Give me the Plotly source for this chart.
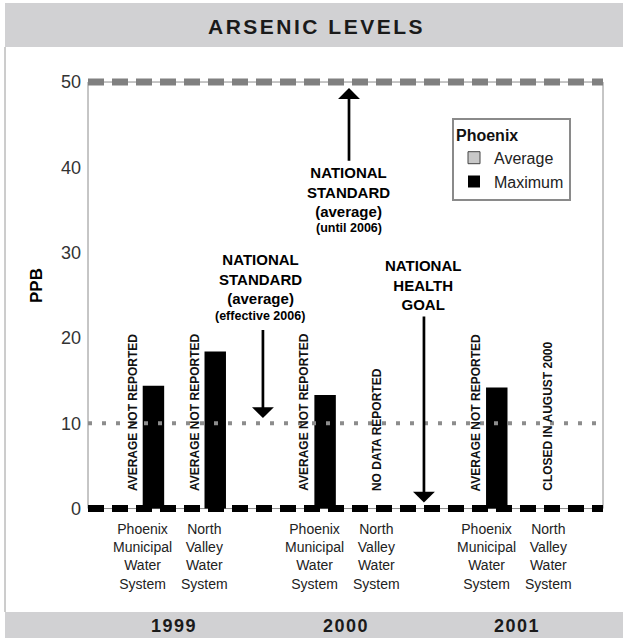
import plotly.graph_objects as go

# ---------------- data ----------------
years = ["1999", "2000", "2001"]
systems = ["Phoenix<br>Municipal<br>Water<br>System", "North<br>Valley<br>Water<br>System"]
# maximum arsenic (ppb) per year: [Phoenix Municipal, North Valley]
maximum_ppb = [[14.4, 18.4], [13.3, None], [14.2, None]]
# averages were not reported
average_ppb = [[None, None], [None, None], [None, None]]
notes = [
    ["AVERAGE NOT REPORTED", "AVERAGE NOT REPORTED"],
    ["AVERAGE NOT REPORTED", "NO DATA REPORTED"],
    ["AVERAGE NOT REPORTED", "CLOSED IN AUGUST 2000"],
]
y_ticks = [0, 10, 20, 30, 40, 50]
standard_until_2006 = 50
standard_effective_2006 = 10
health_goal = 0

# ---------------- layout constants ----------------
W, H = 623, 638
L, R, T, B = 88, 20, 77, 124
PW, PH = W - L - R, H - T - B
CAT_OFF = 0.18     # system offset from year centre
SLOT = 0.0612      # avg/max slot offset from system centre
BAR_W = 0.125

def px_x(px):
    return (px - L) / PW

def px_y(py):
    return (H - B - py) / PH

FONT = "Liberation Sans, Arial, sans-serif"
NARROW = "Liberation Sans Narrow, Arial Narrow, Liberation Sans, Arial, sans-serif"

avg_x, avg_y, max_x, max_y = [], [], [], []
for g, yr in enumerate(years):
    for s in range(len(systems)):
        c = g + (-CAT_OFF if s == 0 else CAT_OFF)
        avg_x.append(c - SLOT)
        avg_y.append(average_ppb[g][s])
        max_x.append(c + SLOT)
        max_y.append(maximum_ppb[g][s])

fig = go.Figure()
fig.add_trace(go.Bar(x=avg_x, y=avg_y, width=BAR_W, name="Average",
                     marker=dict(color="#c8c8c8", line=dict(color="#444", width=1))))
fig.add_trace(go.Bar(x=max_x, y=max_y, width=BAR_W, name="Maximum",
                     marker=dict(color="#000000", line=dict(width=0))))

shapes = [
    # title band
    dict(type="rect", xref="paper", yref="paper", x0=px_x(5), x1=px_x(623),
         y0=px_y(47), y1=px_y(3), fillcolor="#d1d1d3", line=dict(width=0), layer="below"),
    # bottom band
    dict(type="rect", xref="paper", yref="paper", x0=px_x(5), x1=px_x(623),
         y0=px_y(638), y1=px_y(612), fillcolor="#d1d1d3", line=dict(width=0), layer="below"),
    # left border line
    dict(type="line", xref="paper", yref="paper", x0=px_x(5), x1=px_x(5),
         y0=px_y(47), y1=px_y(612), line=dict(color="#9a9a9a", width=1)),
    # plot frame
    dict(type="rect", xref="paper", yref="y", x0=0, x1=1, y0=0, y1=standard_until_2006,
         line=dict(color="#8c8c8c", width=1), layer="below"),
    # standards
    dict(type="line", xref="paper", yref="y", x0=0, x1=1,
         y0=standard_until_2006, y1=standard_until_2006,
         line=dict(color="#808080", width=7, dash="16px,8px")),
    dict(type="line", xref="paper", yref="y", x0=0, x1=1,
         y0=standard_effective_2006, y1=standard_effective_2006,
         line=dict(color="#8c8c8c", width=4, dash="4px,10px")),
    dict(type="line", xref="paper", yref="y", x0=0, x1=1,
         y0=health_goal, y1=health_goal,
         line=dict(color="#000000", width=7, dash="16px,8px")),
]

ann = []
# title
ann.append(dict(xref="paper", yref="paper", x=px_x(316), y=px_y(26), showarrow=False,
                text='<span style="letter-spacing:2.5px"><b>ARSENIC LEVELS</b></span>',
                font=dict(family=FONT, size=21, color="#1a1a1a"),
                xanchor="center", yanchor="middle"))
# PPB axis label
ann.append(dict(xref="paper", yref="paper", x=px_x(36), y=px_y(286), showarrow=False,
                text="<b>PPB</b>", textangle=-90,
                font=dict(family=FONT, size=17, color="#000"),
                xanchor="center", yanchor="middle"))
# year labels & system labels & notes
for g, yr in enumerate(years):
    ann.append(dict(xref="x", yref="paper", x=g, y=px_y(626), showarrow=False,
                    text='<span style="letter-spacing:1.5px"><b>%s</b></span>' % yr,
                    font=dict(family=FONT, size=18, color="#1a1a1a"),
                    xanchor="center", yanchor="middle"))
    for s, sysname in enumerate(systems):
        c = g + (-CAT_OFF if s == 0 else CAT_OFF)
        ann.append(dict(xref="x", yref="paper", x=c, y=px_y(556), showarrow=False,
                        text=sysname, font=dict(family=NARROW, size=14, color="#222"),
                        xanchor="center", yanchor="middle"))
        nx = c - SLOT if maximum_ppb[g][s] is not None else c
        ann.append(dict(xref="x", yref="y", x=nx, y=1.8, showarrow=False,
                        text="<b>%s</b>" % notes[g][s], textangle=-90,
                        font=dict(family=FONT, size=12, color="#111"),
                        xanchor="center", yanchor="bottom"))

# standard annotations: text blocks
def label(x, y, text, size):
    return dict(xref="x", yref="y", x=x, y=y, showarrow=False, text=text,
                font=dict(family=FONT, size=size, color="#000"),
                xanchor="center", yanchor="middle")

ann.append(label(1.02, 37.1, "<b>NATIONAL<br>STANDARD<br>(average)</b>", 15))
ann.append(label(1.02, 32.9, "<b>(until 2006)</b>", 12.5))
ann.append(label(0.502, 26.9, "<b>NATIONAL<br>STANDARD<br>(average)</b>", 15))
ann.append(label(0.502, 22.6, "<b>(effective 2006)</b>", 12.5))
ann.append(label(1.451, 26.2, "<b>NATIONAL<br>HEALTH<br>GOAL</b>", 15))

def arrow(x, y_tip, y_tail):
    return dict(xref="x", yref="y", x=x, y=y_tip, axref="x", ayref="y", ax=x, ay=y_tail,
                text="", showarrow=True, arrowhead=1, arrowsize=1.35, arrowwidth=2.7,
                arrowcolor="#000", standoff=0)

ann.append(arrow(1.0204, standard_until_2006 - 0.7, 40.6))
ann.append(arrow(0.519, standard_effective_2006 + 0.6, 21.1))
ann.append(arrow(1.457, health_goal + 0.7, 22.7))

fig.update_layout(
    width=W, height=H,
    margin=dict(l=L, r=R, t=T, b=B, pad=0),
    paper_bgcolor="white", plot_bgcolor="white",
    font=dict(family=FONT, color="#333"),
    barmode="overlay",
    showlegend=True,
    legend=dict(
        x=px_x(452), y=px_y(118), xanchor="left", yanchor="top",
        bgcolor="white", bordercolor="#8a8a8a", borderwidth=2,
        title=dict(text="<b>Phoenix</b>", font=dict(family=FONT, size=16, color="#111")),
        font=dict(family=FONT, size=16, color="#222"),
        traceorder="normal", tracegroupgap=0, itemclick=False,
    ),
    xaxis=dict(range=[-0.5, 2.5], showgrid=False, zeroline=False, showline=False,
               showticklabels=False, ticks="", fixedrange=True),
    yaxis=dict(range=[-0.64, 50.59], showgrid=False, zeroline=False, showline=False,
               tickvals=y_ticks, ticktext=[str(v) for v in y_ticks], ticks="",
               ticklabelstandoff=6,
               tickfont=dict(family=FONT, size=18, color="#333"), fixedrange=True),
    shapes=shapes,
    annotations=ann,
)

fig.write_html("out.html", config={"displayModeBar": False},
               post_script="document.body.style.margin='0';document.body.style.overflow='hidden';")
